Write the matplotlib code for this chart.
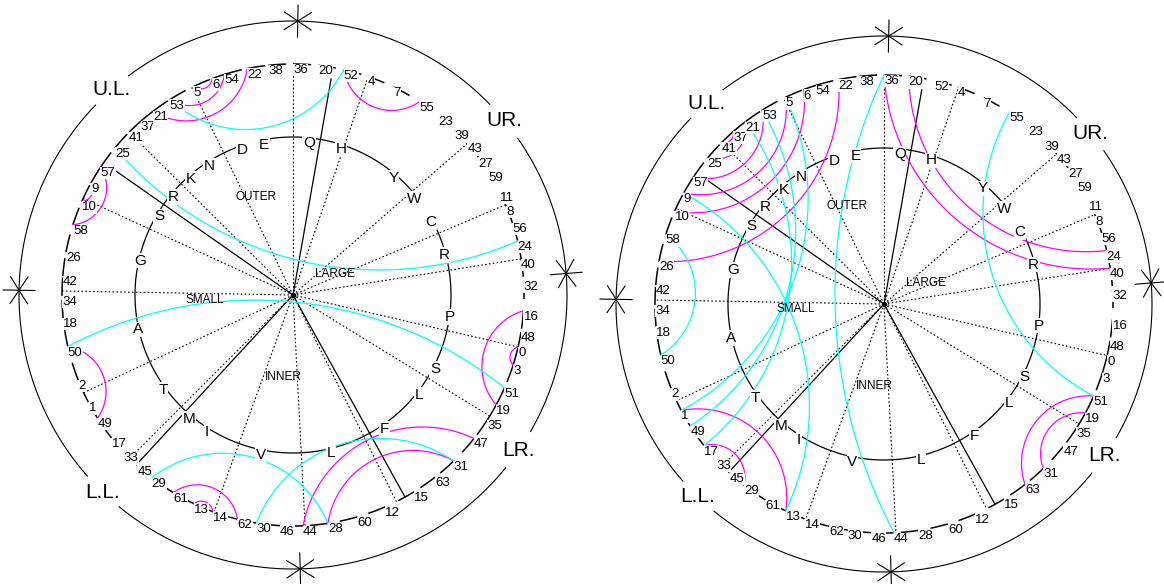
import numpy as np
import matplotlib.pyplot as plt

plt.rcParams['font.family'] = ['Liberation Sans', 'DejaVu Sans']

# numbers round the ring, clockwise from the top, with their bearings (deg)
ring_nums = [38, 36, 20, 52, 4, 7, 55, 23, 39, 43, 27, 59, 11, 8, 56, 24,
             40, 32, 16, 48, 0, 3, 51, 19, 35, 47, 31, 63, 15, 12, 60, 28,
             44, 46, 30, 62, 14, 13, 61, 29, 45, 33, 17, 49, 1, 2, 50, 18,
             34, 42, 26, 58, 10, 9, 57, 25, 41, 37, 21, 53, 5, 6, 54, 22]
ring_deg = [96.2, 90.0, 83.8, 77.3, 71.2, 64.2, 56.8, 50.9, 45.5, 41.0, 36.5, 32.2,
            26.6, 22.6, 18.1, 13.5, 9.0, 3.5, -3.9, -9.2, -13.0, -17.6, -23.7, -28.4,
            -32.7, -38.4, -45.9, -52.0, -58.4, -66.5, -73.8, -81.3, -87.5, -93.2, -99.1,
            -103.9, -110.3, -115.4, -121.2, -127.7, -132.4, -137.1, -141.8, -147.8,
            -152.3, -158.4, -167.1, -174.3, -179.8, 175.3, 169.3, 162.3, 156.1, 151.0,
            146.4, 140.4, 135.2, 131.2, 127.3, 122.2, 115.5, 110.5, 107.3, 101.4]
ring_skip = [27, 59, 33, 45]

# letters on the middle ring, clockwise from the top
letters = ['Q', 'H', 'Y', 'W', 'C', 'R', 'P', 'S', 'L', 'F', 'L', 'V',
           'I', 'M', 'T', 'A', 'G', 'S', 'R', 'K', 'N', 'D', 'E']
letter_deg = [84.2, 72.4, 50.6, 39.9, 29.5, 16.5, -6.1, -25.8, -36.9, -54.5, -76.1,
              -101.7, -123.1, -131.2, -145.4, -169.3, 165.6, 148.0, 139.4, 130.1,
              122.1, 108.6, 100.5]
letter_open = [3, 21]   # no ring after W and after D

spoke_deg = [179.0, 155.3, 135.2, 116.0, 90.0, 71.0, 41.0, 23.0, 9.0, -13.0,
             -31.6, -63.4, -87.0, -110.0, -135.0, -155.0]
solid_deg = [145.0, 80.0, -132.7, -61.0]
solid_reach = [0.955, 0.95, 1.0, 1.0]

quad_names = ['U.L.', 'UR.', 'LR.', 'L.L.']
quad_deg = [131.5, 39.5, -34.5, -134.0]
star_deg = [89.0, 4.5, 179.0, -88.5]

zone_names = ['OUTER', 'LARGE', 'SMALL', 'INNER']
zone_off = [(-37, -98), (42, -21), (-88, 5), (-10, 82)]

left_magenta = [(5, 6), (54, 53), (22, 21), (52, 55), (57, 58), (9, 10), (50, 49),
                (61, 62), (13, 14), (16, 19), (0, 3), (44, 47), (28, 31)]
left_cyan = [(53, 52), (25, 24), (50, 51), (29, 28), (30, 31)]
right_magenta = [(41, 37), (25, 21), (57, 53), (9, 5), (10, 6), (26, 22), (36, 40),
                 (20, 24), (1, 13), (17, 29), (51, 63), (19, 31)]
right_cyan = [(58, 50), (55, 51), (9, 13), (5, 1), (21, 17), (53, 49), (36, 44)]

MAGENTA = '#ff00ff'
CYAN = '#00ffff'
bearing = dict(zip(ring_nums, ring_deg))


def xy(cx, cy, r, deg):
    a = np.radians(deg)
    return cx + r * np.cos(a), cy - r * np.sin(a)


def arc(ax, cx, cy, r, a0, a1, **kw):
    t = np.linspace(a0, a1, max(int(abs(a1 - a0)) * 2, 8))
    x, y = xy(cx, cy, r, t)
    ax.plot(x, y, solid_capstyle='butt', **kw)


def link(ax, cx, cy, r, da, db, color):
    d = (db - da + 540) % 360 - 180
    phi = np.radians(abs(d) / 2)
    mid = np.radians(da + d / 2)
    psi = np.radians(62 - 0.4 * np.degrees(phi))
    dist = r * np.sin(phi + psi) / np.sin(psi)
    rho = r * np.sin(phi) / np.sin(psi)
    ox, oy = dist * np.cos(mid), dist * np.sin(mid)
    pa = np.radians(da)
    pb = np.radians(db)
    ta = np.arctan2(r * np.sin(pa) - oy, r * np.cos(pa) - ox)
    tb = np.arctan2(r * np.sin(pb) - oy, r * np.cos(pb) - ox)
    dt = (tb - ta + np.pi) % (2 * np.pi) - np.pi
    t = ta + np.linspace(0, 1, 200) * dt
    ax.plot(cx + ox + rho * np.cos(t), cy - (oy + rho * np.sin(t)),
            color=color, lw=0.9, zorder=3)


def panel(ax, cx, cy, radii, magenta, cyan):
    r_out, r_num, r_let = radii

    # outer circle, broken where the quadrant names sit
    gaps = sorted(quad_deg)
    for g0, g1 in zip(gaps, gaps[1:] + [gaps[0] + 360]):
        arc(ax, cx, cy, r_out, g0 + 4.5, g1 - 4.5, color='black', lw=0.8)
    for name, q in zip(quad_names, quad_deg):
        x, y = xy(cx, cy, r_out, q)
        ax.text(x, y, name, fontsize=15, ha='center', va='center')
    for s in star_deg:
        x0, y0 = xy(cx, cy, r_out - 16, s)
        x1, y1 = xy(cx, cy, r_out + 16, s)
        mx, my = (x0 + x1) / 2, (y0 + y1) / 2
        for off in (0, 57, -57):
            ang = np.radians(s + off)
            ax.plot([mx - 16 * np.cos(ang), mx + 16 * np.cos(ang)],
                    [my + 16 * np.sin(ang), my - 16 * np.sin(ang)],
                    color='black', lw=0.8)

    # number ring
    n = len(ring_nums)
    for i, num in enumerate(ring_nums):
        a0 = ring_deg[i]
        a1 = ring_deg[(i + 1) % n]
        if num not in ring_skip:
            seg = min((a0 - a1) % 360, 4.5)
            arc(ax, cx, cy, r_num, a0 - seg, a0, color='black', lw=1.1, zorder=1)
        x, y = xy(cx, cy, r_num, a0)
        ax.text(x, y, str(num), fontsize=9.5, ha='left', va='top', zorder=6,
                bbox=dict(boxstyle='square,pad=0.02', fc='white', ec='none'))

    # letter ring
    m = len(letters)
    for j in range(m):
        if j in letter_open:
            continue
        a0 = letter_deg[j]
        a1 = letter_deg[(j + 1) % m]
        arc(ax, cx, cy, r_let, a0 - (a0 - a1) % 360, a0, color='black', lw=0.9, zorder=1)
    for ch, a in zip(letters, letter_deg):
        x, y = xy(cx, cy, r_let, a)
        ax.text(x, y - 2, ch, fontsize=11, ha='center', va='top', zorder=5,
                bbox=dict(boxstyle='square,pad=0.05', fc='white', ec='none'))

    # spokes
    for a in spoke_deg:
        x, y = xy(cx, cy, r_num, a)
        ax.plot([cx, x], [cy, y], color='black', lw=0.8, ls=(0, (1.5, 2.0)), zorder=2)
    for a, k in zip(solid_deg, solid_reach):
        x, y = xy(cx, cy, r_num * k, a)
        ax.plot([cx, x], [cy, y], color='black', lw=0.9, zorder=2)
    ax.plot(cx, cy, 'o', color='black', ms=3, zorder=4)

    for name, (dx, dy) in zip(zone_names, zone_off):
        ax.text(cx + dx, cy + dy, name, fontsize=8.5, ha='center', va='center',
                family=['Liberation Sans Narrow', 'Liberation Sans'], zorder=5)

    for a, b in magenta:
        link(ax, cx, cy, r_num, bearing[a], bearing[b], MAGENTA)
    for a, b in cyan:
        link(ax, cx, cy, r_num, bearing[a], bearing[b], CYAN)


fig = plt.figure(figsize=(11.64, 5.84), dpi=100)
ax = fig.add_axes([0, 0, 1, 1])
ax.set_xlim(0, 1164)
ax.set_ylim(584, 0)
ax.axis('off')

panel(ax, 293, 295, (274, 231, 158), left_magenta, left_cyan)
panel(ax, 884, 304, (268, 229, 156), right_magenta, right_cyan)

fig.savefig('out.png', dpi=100)
